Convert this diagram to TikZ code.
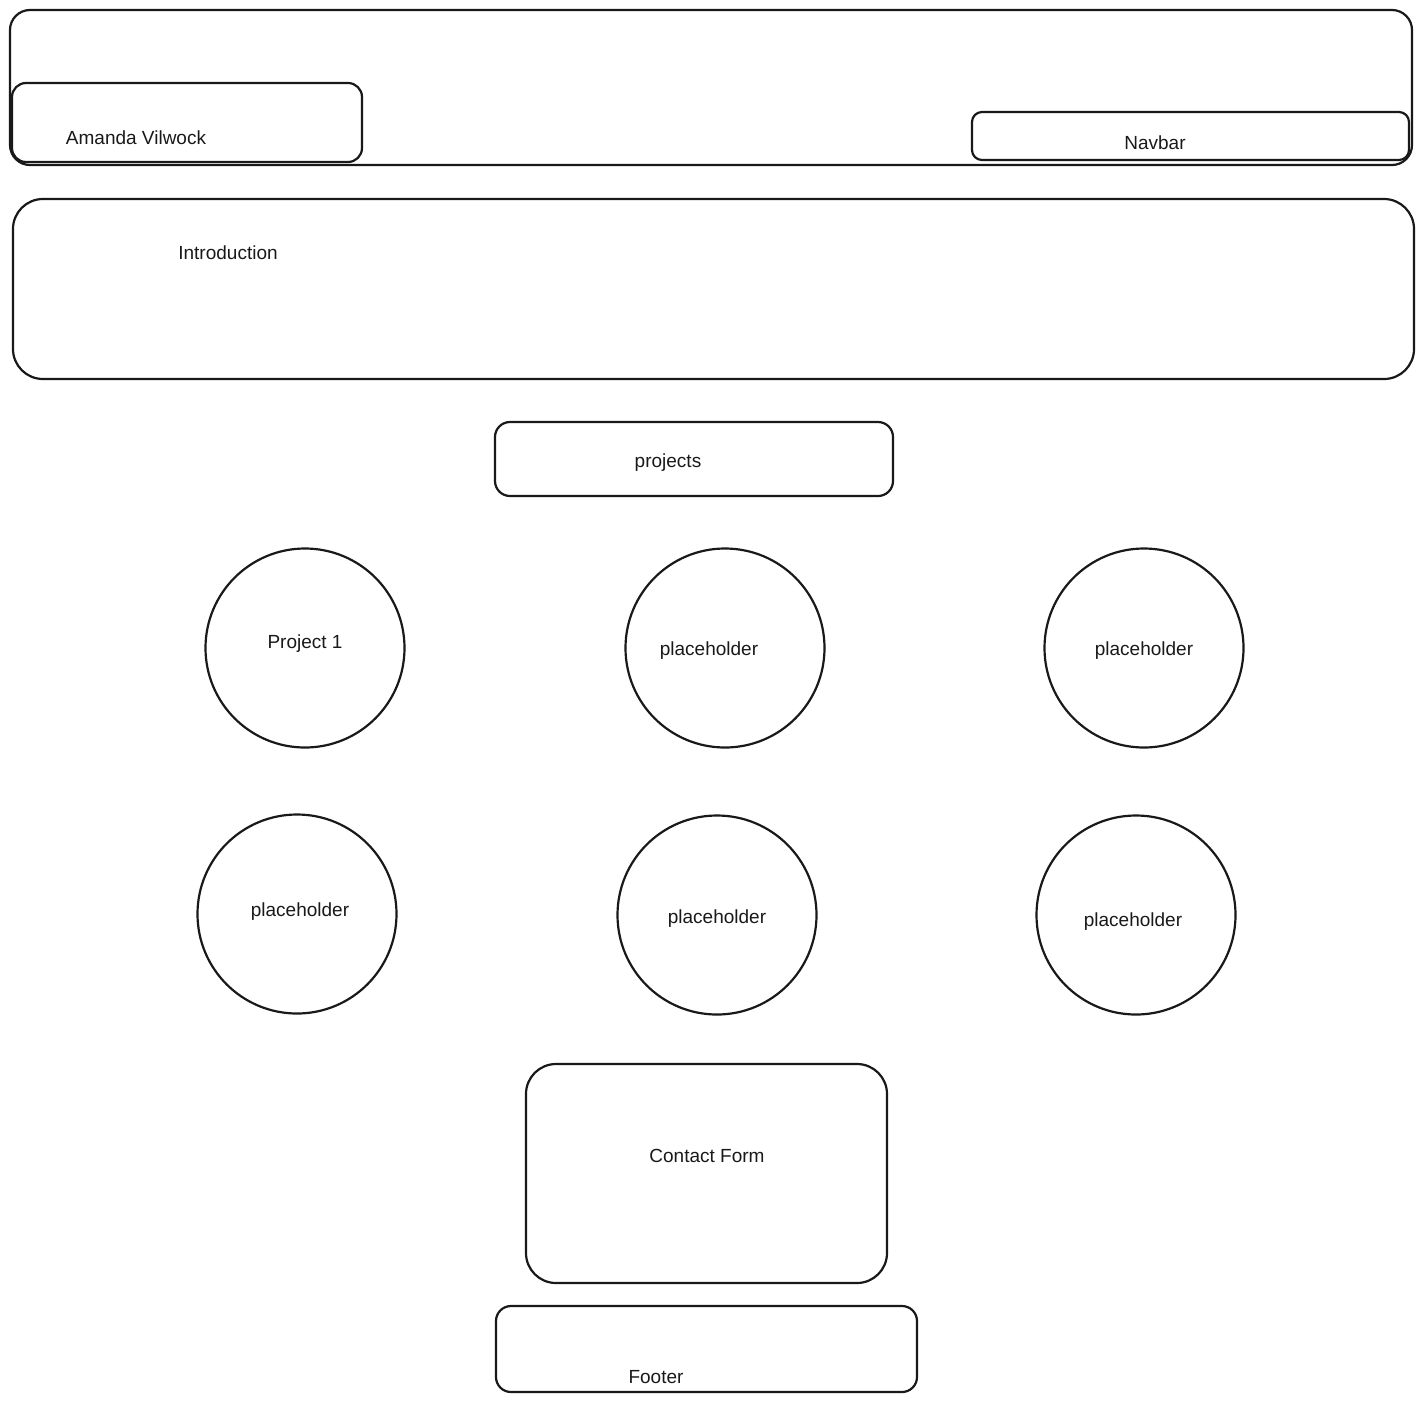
\documentclass[tikz,border=0pt]{standalone}
\usepackage{fontspec}
\setmainfont{Liberation Sans}
\begin{document}
\begin{tikzpicture}[x=1pt,y=-1pt,
  sketch/.style={draw=black!90, line width=2.2pt, inner sep=0pt, line join=round},
  panel/.style={sketch, rectangle, rounded corners=#1},
  panel/.default=16pt,
  disc/.style={sketch, circle},
  lbl/.style={font=\fontsize{19}{22}\selectfont, inner sep=0pt, text=black!90, yshift=-2.5pt}]
\useasboundingbox (0,0) rectangle (1424,1403);

% header bar with name and navigation
\node[panel=20pt, minimum width=1402pt, minimum height=155pt] (header) at (711,87.5) {};
\node[panel=14pt, minimum width=350pt, minimum height=79pt] (name) at (187,122.5) {};
\node[panel=10pt, minimum width=437pt, minimum height=48pt] (navbar) at (1190.5,136) {};
\node[lbl] (namet) at (136,135) {Amanda Vilwock};
\node[lbl] (navt) at (1155,140) {Navbar};

% introduction section
\node[panel=30pt, minimum width=1401pt, minimum height=180pt] (intro) at (713.5,289) {};
\node[lbl] (introt) at (228,250) {Introduction};

% projects heading
\node[panel=15pt, minimum width=398pt, minimum height=74pt] (projects) at (694,459) {};
\node[lbl] (projt) at (668,460) {projects};

% project tiles
\node[disc, minimum size=199pt] (p1) at (305,648) {};
\node[disc, minimum size=199pt] (p2) at (725,648) {};
\node[disc, minimum size=199pt] (p3) at (1144,648) {};
\node[disc, minimum size=199pt] (p4) at (297,914) {};
\node[disc, minimum size=199pt] (p5) at (717,915) {};
\node[disc, minimum size=199pt] (p6) at (1136,915) {};
\node[lbl] (p1t) at (305,641) {Project 1};
\node[lbl] (p2t) at (709,648) {placeholder};
\node[lbl] (p3t) at (1144,648) {placeholder};
\node[lbl] (p4t) at (300,909) {placeholder};
\node[lbl] (p5t) at (717,916) {placeholder};
\node[lbl] (p6t) at (1133,919) {placeholder};

% contact form and footer
\node[panel=30pt, minimum width=361pt, minimum height=219pt] (contact) at (706.5,1173.5) {};
\node[lbl] (contactt) at (707,1153) {Contact Form};
\node[panel=15pt, minimum width=421pt, minimum height=86pt] (footer) at (706.5,1349) {};
\node[lbl] (footert) at (656,1375) {Footer};
\end{tikzpicture}
\end{document}
